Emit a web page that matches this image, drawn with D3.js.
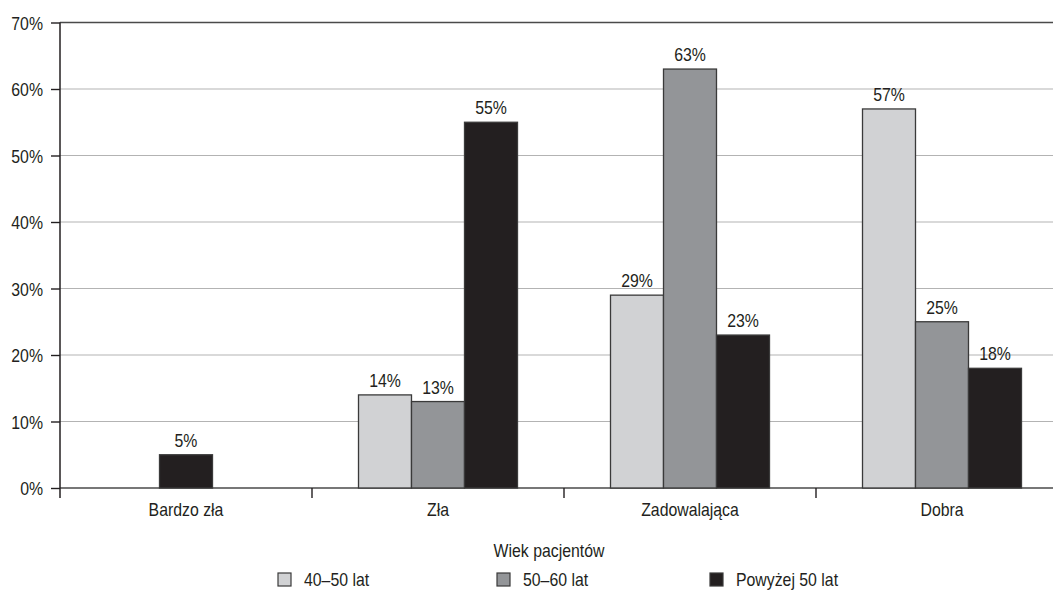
<!DOCTYPE html>
<html>
<head>
<meta charset="utf-8">
<script src="https://cdn.jsdelivr.net/npm/d3@7"></script>
<style>
  html, body { margin: 0; padding: 0; background: #fff; }
  svg { display: block; }
  text { font-family: "Liberation Sans", Arial, Helvetica, sans-serif; fill: #231f20; }
</style>
</head>
<body>
<svg id="chart" width="1053" height="597"></svg>
<script>
// Ocena (categories) and the three age groups
const categories = ["Bardzo zła", "Zła", "Zadowalająca", "Dobra"];
const seriesNames = ["40–50 lat", "50–60 lat", "Powyżej 50 lat"];
const age40to50 = [null, 14, 29, 57];
const age50to60 = [null, 13, 63, 25];
const ageOver50 = [5, 55, 23, 18];
const yTicks = [0, 10, 20, 30, 40, 50, 60, 70];
const axisTitle = "Wiek pacjentów";

const seriesValues = [age40to50, age50to60, ageOver50];
const colors = ["#d1d2d4", "#939598", "#231f20"];

const svg = d3.select("#chart");
const plotLeft = 60, plotRight = 1068, plotTop = 22.5, plotBottom = 488;
const fontSize = 18;
const squeeze = 0.88; // condensed lettering

const x = d3.scaleBand().domain(categories).range([plotLeft, plotRight]);
const y = d3.scaleLinear().domain([0, 70]).range([plotBottom, plotTop]);
const barW = 53;

// condensed text: a group placed at (px, py), text squeezed horizontally
function label(parent, px, py, str, anchor) {
  const g = parent.append("g").attr("transform", `translate(${px},${py}) scale(${squeeze},1)`);
  g.append("text")
    .attr("text-anchor", anchor || "start")
    .attr("font-size", fontSize)
    .text(str);
  return g;
}

// horizontal gridlines
svg.append("g")
  .selectAll("line")
  .data(yTicks)
  .join("line")
  .attr("x1", plotLeft).attr("x2", 1053)
  .attr("y1", d => y(d)).attr("y2", d => y(d))
  .attr("stroke", d => (d === 0 || d === 70) ? "#4a4a4a" : "#b3b3b3")
  .attr("stroke-width", d => (d === 0 || d === 70) ? 1.6 : 1.2);

// y axis
const yAxis = svg.append("g")
  .attr("transform", `translate(${plotLeft},0)`)
  .call(d3.axisLeft(y).tickValues(yTicks).tickFormat(d => d + "%").tickSize(9).tickPadding(8));
yAxis.select(".domain").remove();
yAxis.selectAll(".tick line").attr("stroke", "#231f20").attr("stroke-width", 1.4);
yAxis.selectAll(".tick text").remove();
yAxis.selectAll(".tick").each(function (d) {
  label(d3.select(this), -17, 6.5, d + "%", "end");
});
svg.append("line")
  .attr("x1", plotLeft).attr("x2", plotLeft).attr("y1", plotTop).attr("y2", plotBottom + 10)
  .attr("stroke", "#231f20").attr("stroke-width", 1.5);

// category boundary ticks
svg.append("g")
  .selectAll("line")
  .data(categories.slice(1))
  .join("line")
  .attr("x1", d => x(d)).attr("x2", d => x(d))
  .attr("y1", plotBottom).attr("y2", plotBottom + 10)
  .attr("stroke", "#231f20").attr("stroke-width", 1.4);

// bars: only the groups that have data in a category, centred in its band
const barData = [];
categories.forEach((cat, ci) => {
  const present = seriesValues.map((vals, si) => ({ si, v: vals[ci] })).filter(d => d.v != null);
  const cx = x(cat) + x.bandwidth() / 2;
  const sub = d3.scaleBand().domain(present.map(d => d.si))
    .range([cx - present.length * barW / 2, cx + present.length * barW / 2]);
  present.forEach(d => barData.push({ cat, si: d.si, v: d.v, x0: sub(d.si), w: sub.bandwidth() }));
});

svg.append("g")
  .selectAll("rect")
  .data(barData)
  .join("rect")
  .attr("x", d => d.x0)
  .attr("y", d => y(d.v))
  .attr("width", d => d.w)
  .attr("height", d => y(0) - y(d.v))
  .attr("fill", d => colors[d.si])
  .attr("stroke", "#3a3a3a")
  .attr("stroke-width", 1.3);

// value labels
const valueLayer = svg.append("g");
barData.forEach(d => label(valueLayer, d.x0 + d.w / 2, y(d.v) - 8, d.v + "%", "middle"));

// category labels
const catLayer = svg.append("g");
categories.forEach(c => label(catLayer, x(c) + x.bandwidth() / 2, 516, c, "middle"));

label(svg, 549, 557, axisTitle, "middle");

// legend
const legendX = [278, 497, 710];
seriesNames.forEach((name, i) => {
  const g = svg.append("g").attr("transform", `translate(${legendX[i]},573)`);
  g.append("rect")
    .attr("width", 13).attr("height", 13)
    .attr("fill", colors[i])
    .attr("stroke", "#3a3a3a").attr("stroke-width", 1.2);
  label(g, 26, 13, name, "start");
});
</script>
</body>
</html>
